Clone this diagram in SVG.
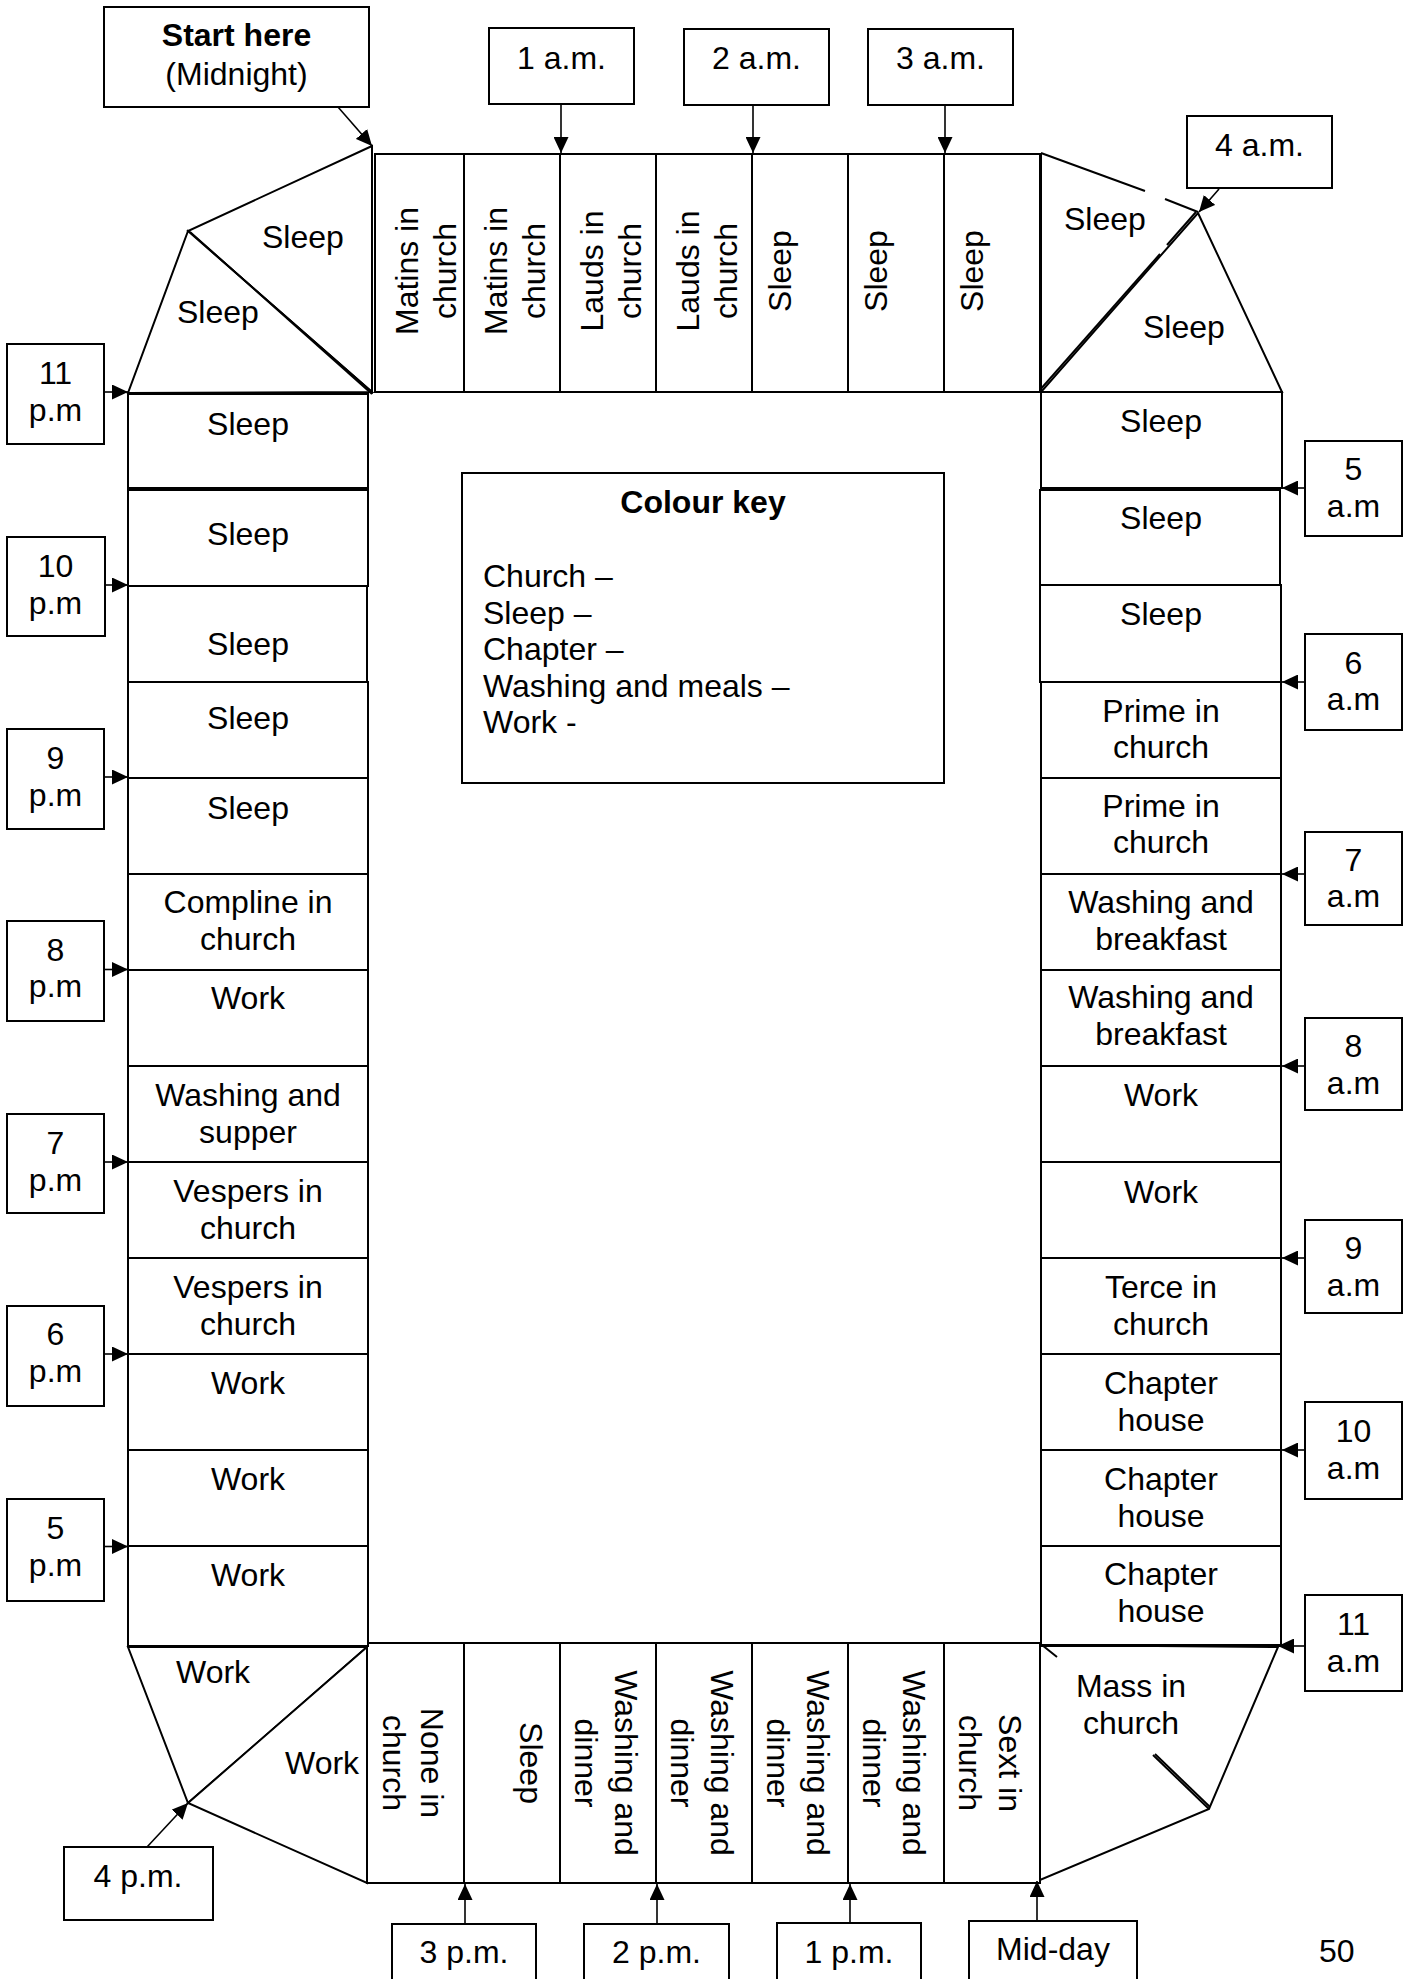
<svg xmlns="http://www.w3.org/2000/svg" width="1412" height="1979" viewBox="0 0 1412 1979">
<style>
.c{fill:#fff;stroke:#000;stroke-width:2}
.ln{fill:none;stroke:#000;stroke-width:2}
.t{font-family:"Liberation Sans",Arial,sans-serif;font-size:32px;fill:#000}
.m{text-anchor:middle}
.b{font-weight:bold}
.ar{fill:none;stroke:#000;stroke-width:1.6;marker-end:url(#ah)}
</style>
<defs>
<marker id="ah" markerUnits="userSpaceOnUse" markerWidth="16" markerHeight="15" refX="16" refY="7.5" orient="auto">
<path d="M0,0 L16,7.5 L0,15 z" fill="#000"/>
</marker>
</defs>
<rect width="1412" height="1979" fill="#fff"/>

<!-- corner polygons -->
<g id="corner-tl">
<polygon class="c" points="372,146 188,231 372,392"/>
<polygon class="c" points="188,231 128,393 372,392"/>
<line class="ln" x1="190" y1="232" x2="372" y2="394"/>
<text class="t" x="262" y="248">Sleep</text>
<text class="t" x="177" y="323">Sleep</text>
</g>
<g id="corner-tr">
<polygon points="1041,153 1198,213 1041,392" fill="#fff"/>
<polygon class="c" points="1198,213 1282,392 1041,392"/>
<line class="ln" x1="1041" y1="153" x2="1145" y2="191"/>
<line class="ln" x1="1165" y1="199" x2="1198" y2="212"/>
<line class="ln" x1="1041" y1="153" x2="1041" y2="392"/>
<line class="ln" x1="1196" y1="212" x2="1167" y2="245"/>
<line class="ln" x1="1160" y1="254" x2="1039" y2="391"/>
<text class="t" x="1064" y="230">Sleep</text>
<text class="t" x="1143" y="338">Sleep</text>
</g>
<g id="corner-bl">
<polygon class="c" points="128,1647 367,1647 188,1803"/>
<polygon class="c" points="367,1647 188,1803 367,1883"/>
<text class="t" x="176" y="1683">Work</text>
<text class="t" x="285" y="1774">Work</text>
</g>
<g id="corner-br">
<polygon class="c" points="1040,1645 1278,1647 1209,1809 1040,1880"/>
<line class="ln" x1="1042" y1="1645" x2="1057" y2="1657"/>
<line class="ln" x1="1153" y1="1755" x2="1209" y2="1809"/>
<line class="ln" x1="1155" y1="1754" x2="1210" y2="1807"/>
<text class="t m" x="1131" y="1697">Mass in<tspan x="1131" dy="37">church</tspan></text>
</g>

<!-- top row -->
<g id="top-1"><rect class="c" x="375" y="154" width="89" height="238"/>
<text class="t m" transform="translate(418,271) rotate(-90)">Matins in<tspan x="0" dy="38">church</tspan></text></g>
<g id="top-2"><rect class="c" x="464" y="154" width="96" height="238"/>
<text class="t m" transform="translate(507,271) rotate(-90)">Matins in<tspan x="0" dy="38">church</tspan></text></g>
<g id="top-3"><rect class="c" x="560" y="154" width="96" height="238"/>
<text class="t m" transform="translate(603,271) rotate(-90)">Lauds in<tspan x="0" dy="38">church</tspan></text></g>
<g id="top-4"><rect class="c" x="656" y="154" width="96" height="238"/>
<text class="t m" transform="translate(699,271) rotate(-90)">Lauds in<tspan x="0" dy="38">church</tspan></text></g>
<g id="top-5"><rect class="c" x="752" y="154" width="96" height="238"/>
<text class="t m" transform="translate(791,271) rotate(-90)">Sleep</text></g>
<g id="top-6"><rect class="c" x="848" y="154" width="96" height="238"/>
<text class="t m" transform="translate(887,271) rotate(-90)">Sleep</text></g>
<g id="top-7"><rect class="c" x="944" y="154" width="96" height="238"/>
<text class="t m" transform="translate(983,271) rotate(-90)">Sleep</text></g>
<line class="ln" x1="372" y1="146" x2="372" y2="392"/>

<!-- bottom row -->
<g id="bot-1"><rect class="c" x="367" y="1643" width="97" height="240"/>
<text class="t m" transform="translate(421,1763) rotate(90)">None in<tspan x="0" dy="38">church</tspan></text></g>
<g id="bot-2"><rect class="c" x="464" y="1643" width="96" height="240"/>
<text class="t m" transform="translate(520,1763) rotate(90)">Sleep</text></g>
<g id="bot-3"><rect class="c" x="560" y="1643" width="96" height="240"/>
<text class="t m" transform="translate(615,1763) rotate(90)">Washing and<tspan x="0" dy="40">dinner</tspan></text></g>
<g id="bot-4"><rect class="c" x="656" y="1643" width="96" height="240"/>
<text class="t m" transform="translate(711,1763) rotate(90)">Washing and<tspan x="0" dy="40">dinner</tspan></text></g>
<g id="bot-5"><rect class="c" x="752" y="1643" width="96" height="240"/>
<text class="t m" transform="translate(807,1763) rotate(90)">Washing and<tspan x="0" dy="40">dinner</tspan></text></g>
<g id="bot-6"><rect class="c" x="848" y="1643" width="96" height="240"/>
<text class="t m" transform="translate(903,1763) rotate(90)">Washing and<tspan x="0" dy="40">dinner</tspan></text></g>
<g id="bot-7"><rect class="c" x="944" y="1643" width="96" height="240"/>
<text class="t m" transform="translate(999,1763) rotate(90)">Sext in<tspan x="0" dy="40">church</tspan></text></g>

<!-- left column -->
<g id="left-1"><rect class="c" x="128" y="394" width="240" height="94"/><text class="t m" x="248" y="435">Sleep</text></g>
<g id="left-2"><rect class="c" x="128" y="490" width="240" height="96"/><text class="t m" x="248" y="545">Sleep</text></g>
<g id="left-3"><rect class="c" x="128" y="586" width="239" height="96"/><text class="t m" x="248" y="655">Sleep</text></g>
<g id="left-4"><rect class="c" x="128" y="682" width="240" height="96"/><text class="t m" x="248" y="729">Sleep</text></g>
<g id="left-5"><rect class="c" x="128" y="778" width="240" height="96"/><text class="t m" x="248" y="819">Sleep</text></g>
<g id="left-6"><rect class="c" x="128" y="874" width="240" height="96"/><text class="t m" x="248" y="913">Compline in<tspan x="248" dy="37">church</tspan></text></g>
<g id="left-7"><rect class="c" x="128" y="970" width="240" height="96"/><text class="t m" x="248" y="1008.5">Work</text></g>
<g id="left-8"><rect class="c" x="128" y="1066" width="240" height="96"/><text class="t m" x="248" y="1106">Washing and<tspan x="248" dy="37">supper</tspan></text></g>
<g id="left-9"><rect class="c" x="128" y="1162" width="240" height="96"/><text class="t m" x="248" y="1202">Vespers in<tspan x="248" dy="37">church</tspan></text></g>
<g id="left-10"><rect class="c" x="128" y="1258" width="240" height="96"/><text class="t m" x="248" y="1298">Vespers in<tspan x="248" dy="37">church</tspan></text></g>
<g id="left-11"><rect class="c" x="128" y="1354" width="240" height="96"/><text class="t m" x="248" y="1393.5">Work</text></g>
<g id="left-12"><rect class="c" x="128" y="1450" width="240" height="96"/><text class="t m" x="248" y="1490">Work</text></g>
<g id="left-13"><rect class="c" x="128" y="1546" width="240" height="100"/><text class="t m" x="248" y="1586">Work</text></g>

<!-- right column -->
<g id="right-1"><rect class="c" x="1041" y="392" width="241" height="96"/><text class="t m" x="1161" y="432">Sleep</text></g>
<g id="right-2"><rect class="c" x="1040" y="490" width="240" height="95"/><text class="t m" x="1161" y="529">Sleep</text></g>
<g id="right-3"><rect class="c" x="1040" y="585" width="241" height="97"/><text class="t m" x="1161" y="625">Sleep</text></g>
<g id="right-4"><rect class="c" x="1041" y="682" width="240" height="96"/><text class="t m" x="1161" y="721.5">Prime in<tspan x="1161" dy="36">church</tspan></text></g>
<g id="right-5"><rect class="c" x="1041" y="778" width="240" height="96"/><text class="t m" x="1161" y="817">Prime in<tspan x="1161" dy="36">church</tspan></text></g>
<g id="right-6"><rect class="c" x="1041" y="874" width="240" height="96"/><text class="t m" x="1161" y="912.5">Washing and<tspan x="1161" dy="37">breakfast</tspan></text></g>
<g id="right-7"><rect class="c" x="1041" y="970" width="240" height="96"/><text class="t m" x="1161" y="1008">Washing and<tspan x="1161" dy="37">breakfast</tspan></text></g>
<g id="right-8"><rect class="c" x="1041" y="1066" width="240" height="96"/><text class="t m" x="1161" y="1106">Work</text></g>
<g id="right-9"><rect class="c" x="1041" y="1162" width="240" height="96"/><text class="t m" x="1161" y="1202.5">Work</text></g>
<g id="right-10"><rect class="c" x="1041" y="1258" width="240" height="96"/><text class="t m" x="1161" y="1298">Terce in<tspan x="1161" dy="37">church</tspan></text></g>
<g id="right-11"><rect class="c" x="1041" y="1354" width="240" height="96"/><text class="t m" x="1161" y="1393.5">Chapter<tspan x="1161" dy="37">house</tspan></text></g>
<g id="right-12"><rect class="c" x="1041" y="1450" width="240" height="96"/><text class="t m" x="1161" y="1489.5">Chapter<tspan x="1161" dy="37">house</tspan></text></g>
<g id="right-13"><rect class="c" x="1041" y="1546" width="240" height="99"/><text class="t m" x="1161" y="1585">Chapter<tspan x="1161" dy="37">house</tspan></text></g>
<line class="ln" x1="1040" y1="1646" x2="1282" y2="1646"/>

<!-- colour key -->
<g id="colour-key">
<rect class="c" x="462" y="473" width="482" height="310"/>
<text class="t b m" x="703" y="513">Colour key</text>
<text class="t" x="483" y="587">Church –</text>
<text class="t" x="483" y="623.5">Sleep –</text>
<text class="t" x="483" y="660">Chapter –</text>
<text class="t" x="483" y="696.5">Washing and meals –</text>
<text class="t" x="483" y="733">Work -</text>
</g>

<!-- time labels -->
<g id="start"><rect class="c" x="104" y="7" width="265" height="100"/>
<text class="t b m" x="236.5" y="46">Start here</text><text class="t m" x="236.5" y="85">(Midnight)</text></g>
<g id="t1am"><rect class="c" x="489" y="28" width="145" height="76"/><text class="t m" x="561.5" y="69">1 a.m.</text></g>
<g id="t2am"><rect class="c" x="684" y="29" width="145" height="76"/><text class="t m" x="756.5" y="69">2 a.m.</text></g>
<g id="t3am"><rect class="c" x="868" y="29" width="145" height="76"/><text class="t m" x="940.5" y="69">3 a.m.</text></g>
<g id="t4am"><rect class="c" x="1187" y="116" width="145" height="72"/><text class="t m" x="1259.5" y="156">4 a.m.</text></g>

<g id="t5am"><rect class="c" x="1305" y="441" width="97" height="95"/><text class="t m" x="1353.5" y="480">5<tspan x="1353.5" dy="37">a.m</tspan></text></g>
<g id="t6am"><rect class="c" x="1305" y="634" width="97" height="96"/><text class="t m" x="1353.5" y="674">6<tspan x="1353.5" dy="36">a.m</tspan></text></g>
<g id="t7am"><rect class="c" x="1305" y="832" width="97" height="93"/><text class="t m" x="1353.5" y="871">7<tspan x="1353.5" dy="36">a.m</tspan></text></g>
<g id="t8am"><rect class="c" x="1305" y="1018" width="97" height="92"/><text class="t m" x="1353.5" y="1057">8<tspan x="1353.5" dy="37">a.m</tspan></text></g>
<g id="t9am"><rect class="c" x="1305" y="1220" width="97" height="93"/><text class="t m" x="1353.5" y="1258.5">9<tspan x="1353.5" dy="37">a.m</tspan></text></g>
<g id="t10am"><rect class="c" x="1305" y="1402" width="97" height="97"/><text class="t m" x="1353.5" y="1441.5">10<tspan x="1353.5" dy="37">a.m</tspan></text></g>
<g id="t11am"><rect class="c" x="1305" y="1595" width="97" height="96"/><text class="t m" x="1353.5" y="1634.5">11<tspan x="1353.5" dy="37">a.m</tspan></text></g>

<g id="t11pm"><rect class="c" x="7" y="344" width="97" height="100"/><text class="t m" x="55.5" y="383.5">11<tspan x="55.5" dy="37.5">p.m</tspan></text></g>
<g id="t10pm"><rect class="c" x="7" y="537" width="98" height="99"/><text class="t m" x="55.5" y="576.5">10<tspan x="55.5" dy="37">p.m</tspan></text></g>
<g id="t9pm"><rect class="c" x="7" y="729" width="97" height="100"/><text class="t m" x="55.5" y="768.5">9<tspan x="55.5" dy="37">p.m</tspan></text></g>
<g id="t8pm"><rect class="c" x="7" y="921" width="97" height="100"/><text class="t m" x="55.5" y="960.5">8<tspan x="55.5" dy="36.5">p.m</tspan></text></g>
<g id="t7pm"><rect class="c" x="7" y="1114" width="97" height="99"/><text class="t m" x="55.5" y="1153.5">7<tspan x="55.5" dy="37">p.m</tspan></text></g>
<g id="t6pm"><rect class="c" x="7" y="1306" width="97" height="100"/><text class="t m" x="55.5" y="1345">6<tspan x="55.5" dy="37">p.m</tspan></text></g>
<g id="t5pm"><rect class="c" x="7" y="1499" width="97" height="102"/><text class="t m" x="55.5" y="1538.5">5<tspan x="55.5" dy="37">p.m</tspan></text></g>

<g id="t4pm"><rect class="c" x="64" y="1847" width="149" height="73"/><text class="t m" x="138" y="1887">4 p.m.</text></g>
<g id="t3pm"><rect class="c" x="392" y="1924" width="144" height="70"/><text class="t m" x="464" y="1963">3 p.m.</text></g>
<g id="t2pm"><rect class="c" x="584" y="1924" width="145" height="70"/><text class="t m" x="656.5" y="1963">2 p.m.</text></g>
<g id="t1pm"><rect class="c" x="777" y="1923" width="144" height="70"/><text class="t m" x="849" y="1963">1 p.m.</text></g>
<g id="tmidday"><rect class="c" x="969" y="1921" width="168" height="70"/><text class="t m" x="1053" y="1960">Mid-day</text></g>

<text id="page-number" class="t" x="1319" y="1962">50</text>

<!-- connectors -->
<g id="connectors">
<line class="ar" x1="338" y1="107" x2="372" y2="146"/>
<line class="ar" x1="561" y1="104" x2="561" y2="153"/>
<line class="ar" x1="753" y1="105" x2="753" y2="153"/>
<line class="ar" x1="945" y1="105" x2="945" y2="153"/>
<line class="ar" x1="1219" y1="189" x2="1199" y2="212"/>
<line class="ar" x1="1305" y1="488" x2="1282" y2="488"/>
<line class="ar" x1="1305" y1="682" x2="1282" y2="682"/>
<line class="ar" x1="1305" y1="874" x2="1282" y2="874"/>
<line class="ar" x1="1305" y1="1066" x2="1282" y2="1066"/>
<line class="ar" x1="1305" y1="1258" x2="1282" y2="1258"/>
<line class="ar" x1="1305" y1="1450" x2="1282" y2="1450"/>
<line class="ar" x1="1305" y1="1646" x2="1278" y2="1646"/>
<line class="ar" x1="104" y1="392" x2="128" y2="392"/>
<line class="ar" x1="105" y1="585" x2="128" y2="585"/>
<line class="ar" x1="104" y1="777" x2="128" y2="777"/>
<line class="ar" x1="104" y1="969.5" x2="128" y2="969.5"/>
<line class="ar" x1="104" y1="1162" x2="128" y2="1162"/>
<line class="ar" x1="104" y1="1354" x2="128" y2="1354"/>
<line class="ar" x1="104" y1="1546.5" x2="128" y2="1546.5"/>
<line class="ar" x1="147" y1="1847" x2="188" y2="1803"/>
<line class="ar" x1="465" y1="1924" x2="465" y2="1884"/>
<line class="ar" x1="657" y1="1924" x2="657" y2="1884"/>
<line class="ar" x1="850" y1="1923" x2="850" y2="1884"/>
<line class="ar" x1="1037" y1="1921" x2="1037" y2="1881"/>
</g>
</svg>
